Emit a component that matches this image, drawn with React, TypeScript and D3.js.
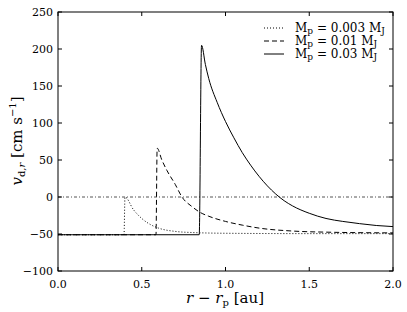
import React from 'react'
import * as d3 from 'd3'

// series: r - r_p [au] and v_d,r [cm/s]
const lowX = [0, 0.394, 0.4, 0.45, 0.5, 0.55, 0.6, 0.7, 0.8, 1.0, 1.5, 2.0]
const lowY = [-51, -51, 0, -17, -29, -37, -42, -46.5, -48, -49, -49.5, -49.5]

const midX = [0, 0.585, 0.592, 0.62, 0.65, 0.7, 0.74, 0.8, 0.85, 0.9, 1.0, 1.1, 1.2, 1.4, 1.6, 2.0]
const midY = [-51, -51, 66, 50, 36, 17, 0, -13, -21, -26, -33, -38, -42, -46, -47.5, -48.5]

const highX = [0, 0.843, 0.857, 0.88, 0.9, 0.95, 1.0, 1.05, 1.1, 1.15, 1.2, 1.25, 1.3, 1.35, 1.4, 1.5, 1.6, 1.7, 1.8, 1.9, 2.0]
const highY = [-51, -51, 205, 179, 160, 128, 102, 80, 60, 43, 28, 15, 4, -5, -12, -22, -29, -33, -36, -38.5, -40]

const masses = ['0.003', '0.01', '0.03']
const xTicks = [0, 0.5, 1.0, 1.5, 2.0]
const yTicks = [-100, -50, 0, 50, 100, 150, 200, 250]

const W = 407
const H = 312
const font = "'DejaVu Serif', serif"

export default function App() {
    const x = d3.scaleLinear().domain([0, 2]).range([58, 393])
    const y = d3.scaleLinear().domain([-100, 250]).range([271, 12])

    const line = d3
        .line<[number, number]>()
        .x(d => x(d[0]))
        .y(d => y(d[1]))
        .curve(d3.curveMonotoneX)

    const series = [
        { xs: lowX, ys: lowY, dash: '1,2' },
        { xs: midX, ys: midY, dash: '5,3' },
        { xs: highX, ys: highY, dash: null },
    ]

    const fmt = (v: number) => (v < 0 ? '\u2212' + Math.abs(v) : String(v))

    return (
        <div style={{ position: 'absolute', left: 0, top: 0 }}>
            <svg width={W} height={H} style={{ display: 'block', background: '#fff', fontFamily: font }}>
                <defs>
                    <clipPath id="plot">
                        <rect x={58} y={12} width={335} height={259} />
                    </clipPath>
                </defs>

                {/* zero line */}
                <line
                    x1={x(0)} x2={x(2)} y1={y(0)} y2={y(0)}
                    stroke="#555" strokeWidth={1} strokeDasharray="3,2,1,2"
                />

                <g clipPath="url(#plot)">
                    {series.map((s, i) => (
                        <path
                            key={i}
                            d={line(s.xs.map((v, j) => [v, s.ys[j]] as [number, number])) || ''}
                            fill="none"
                            stroke="#000"
                            strokeWidth={1}
                            strokeDasharray={s.dash || undefined}
                        />
                    ))}
                </g>

                {/* frame */}
                <rect x={58} y={12} width={335} height={259} fill="none" stroke="#000" strokeWidth={1} />

                {/* ticks */}
                {xTicks.map(t => (
                    <g key={'x' + t}>
                        <line x1={x(t)} x2={x(t)} y1={271} y2={267} stroke="#000" />
                        <line x1={x(t)} x2={x(t)} y1={12} y2={16} stroke="#000" />
                        <text x={x(t)} y={288} fontSize={11} textAnchor="middle">{t.toFixed(1)}</text>
                    </g>
                ))}
                {yTicks.map(t => (
                    <g key={'y' + t}>
                        <line x1={58} x2={62} y1={y(t)} y2={y(t)} stroke="#000" />
                        <line x1={393} x2={389} y1={y(t)} y2={y(t)} stroke="#000" />
                        <text x={53} y={y(t) + 4} fontSize={11} textAnchor="end">{fmt(t)}</text>
                    </g>
                ))}

                {/* axis labels */}
                <text x={225} y={303} fontSize={15} textAnchor="middle">
                    <tspan fontStyle="italic">r</tspan>
                    <tspan> {'\u2212'} </tspan>
                    <tspan fontStyle="italic">r</tspan>
                    <tspan fontSize={10} dy={3}>p</tspan>
                    <tspan dy={-3}> [au]</tspan>
                </text>
                <text transform="translate(22,141) rotate(-90)" fontSize={15} textAnchor="middle">
                    <tspan fontStyle="italic">v</tspan>
                    <tspan fontSize={10} dy={3}>d,</tspan>
                    <tspan fontSize={10} fontStyle="italic">r</tspan>
                    <tspan dy={-3}> [cm s</tspan>
                    <tspan fontSize={10} dy={-6}>{'\u2212'}1</tspan>
                    <tspan dy={6}>]</tspan>
                </text>

                {/* legend */}
                {series.map((s, i) => {
                    const ly = 28 + i * 13
                    return (
                        <g key={'l' + i}>
                            <line
                                x1={264} x2={284} y1={ly} y2={ly}
                                stroke="#000" strokeWidth={1}
                                strokeDasharray={s.dash || undefined}
                            />
                            <text x={295} y={ly + 4} fontSize={12}>
                                <tspan>M</tspan>
                                <tspan fontSize={9} dy={2}>p</tspan>
                                <tspan dy={-2}>{' = '}{masses[i]}{' M'}</tspan>
                                <tspan fontSize={9} dy={2}>J</tspan>
                            </text>
                        </g>
                    )
                })}
            </svg>
        </div>
    )
}
